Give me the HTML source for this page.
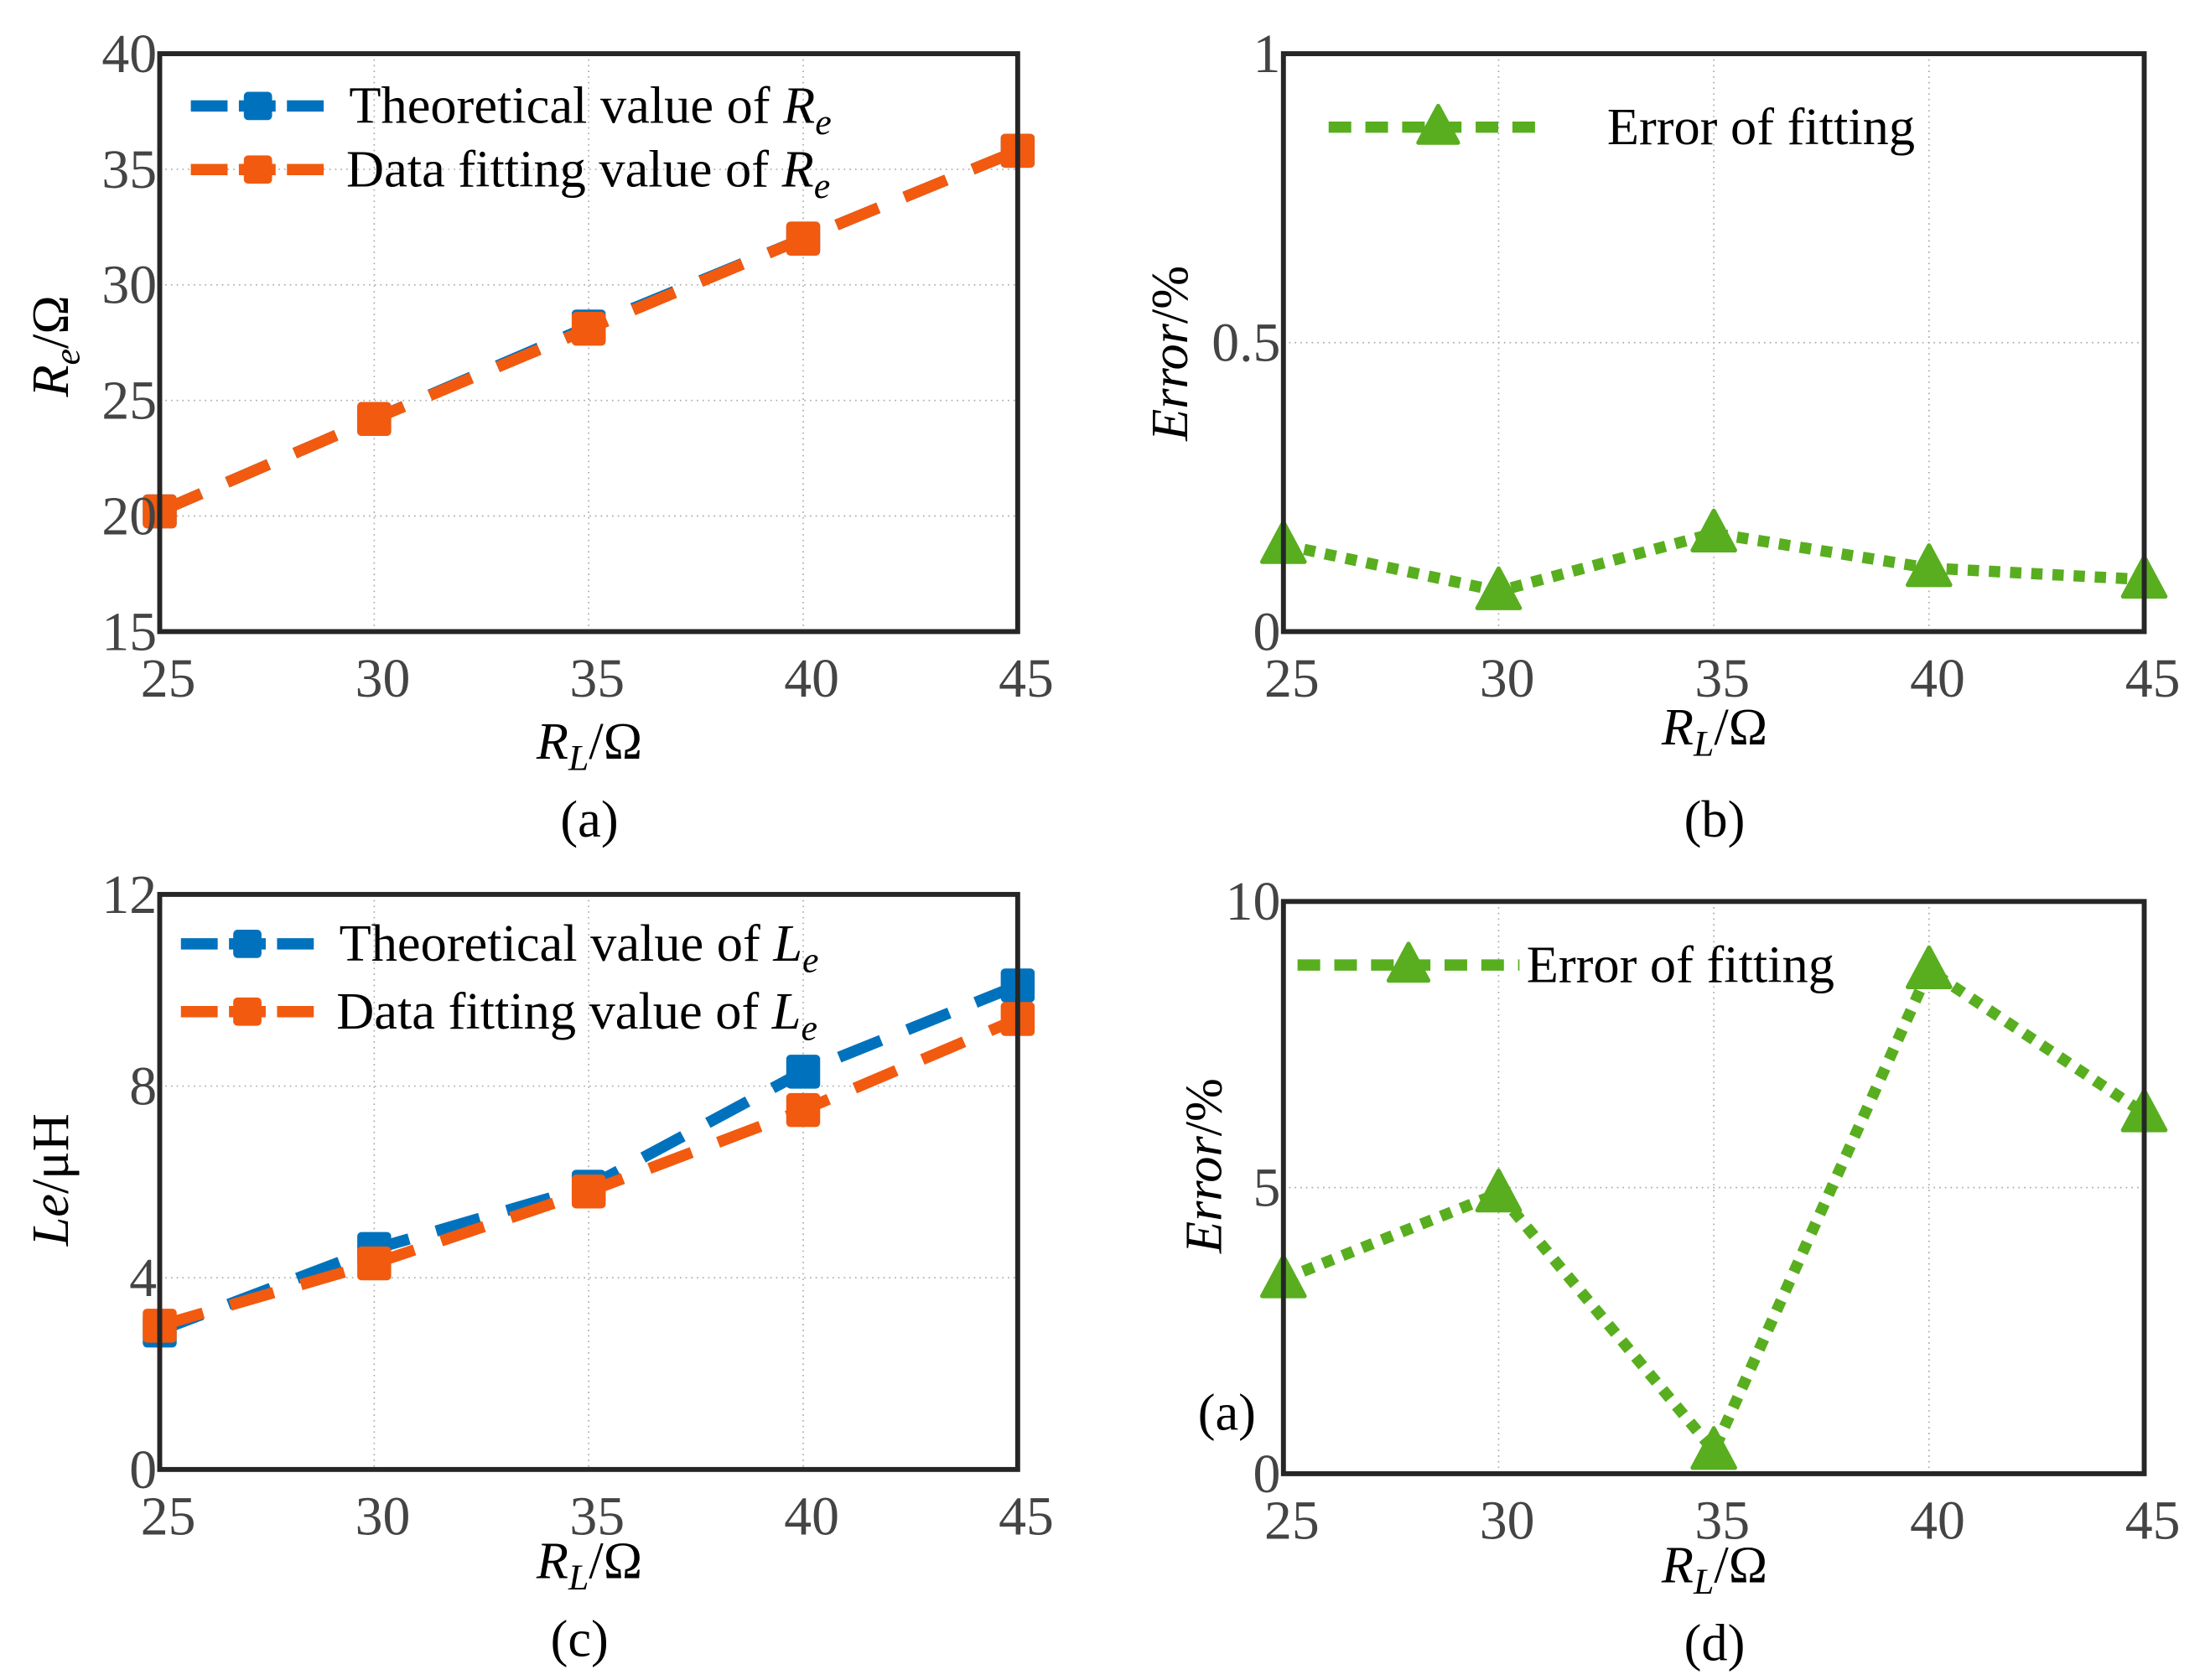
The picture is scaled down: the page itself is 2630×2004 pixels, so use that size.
<!DOCTYPE html>
<html><head><meta charset="utf-8">
<style>
html,body{margin:0;padding:0;background:#fff;}
svg{display:block;font-family:"Liberation Serif","Times New Roman","DejaVu Serif",serif;}
svg text{font-family:"Liberation Serif","Times New Roman","DejaVu Serif",serif;}
.tick{fill:#444;font-size:39px;}
.leg{fill:#000;font-size:37px;}
.lab{fill:#000;font-size:37px;}
</style></head>
<body>
<svg id="fig" width="2630" height="2004" viewBox="0 0 1560 1189" preserveAspectRatio="none" xmlns="http://www.w3.org/2000/svg" font-family="Liberation Serif, serif"></svg>
<script>
const xCats = [25, 30, 35, 40, 45];
const aTheory = [20.2, 24.2, 28.2, 32.0, 35.8];
const aFit = [20.2, 24.2, 28.1, 32.0, 35.8];
const aTicks = [15, 20, 25, 30, 35, 40];
const bError = [0.15, 0.07, 0.17, 0.11, 0.09];
const bTicks = [0, 0.5, 1];
const cTheory = [2.9, 4.6, 5.9, 8.3, 10.1];
const cFit = [3.0, 4.3, 5.8, 7.5, 9.4];
const cTicks = [0, 4, 8, 12];
const dError = [3.4, 4.9, 0.4, 8.8, 6.3];
const dTicks = [0, 5, 10];

const NS = "http://www.w3.org/2000/svg";
const svg = document.getElementById('fig');
function mk(tag, attrs, parent, text){
  const e = document.createElementNS(NS, tag);
  for (const k in attrs) e.setAttribute(k, attrs[k]);
  if (text !== undefined) e.innerHTML = text;
  (parent||svg).appendChild(e);
  return e;
}
const BLUE='#0072BD', ORANGE='#F25A0F', GREEN='#58AE1F';
const FF='Liberation Serif, Times New Roman, DejaVu Serif, serif';

function panel(name, L, R, T, B, ymin, ymax, yticks, ytickLabels, series, legend, ylab, ylabPos, xlabPos, caption){
  const g = mk('g', {'font-family':FF});
  
  
  const sx = v => L + (v - 25) / 20 * (R - L);
  const sy = v => B - (v - ymin) / (ymax - ymin) * (B - T);
  xCats.forEach(v => {
    const gl = mk('line', {x1:sx(v), x2:sx(v), y1:T, y2:B, stroke:'#aaa', 'stroke-width':1, 'stroke-dasharray':'1 3'}, g);
    
    
  });
  yticks.forEach(v => {
    const gl = mk('line', {x1:L, x2:R, y1:sy(v), y2:sy(v), stroke:'#aaa', 'stroke-width':1, 'stroke-dasharray':'1 3'}, g);
    
    
  });
  series.forEach(s => {
    const pts = s.values.map((v,i) => sx(xCats[i]) + ',' + sy(v)).join(' ');
    const pl = mk('polyline', {points:pts, fill:'none', stroke:s.color, 'stroke-width':s.dot?8:8, 'stroke-dasharray':s.dot?'8 7':'32 20'}, g);
    
    
    s.values.forEach((v,i) => {
      const x = sx(xCats[i]), y = sy(v);
      let m;
      if (s.tri) m = mk('polygon', {points:(x)+','+(y-16)+' '+(x-15)+','+(y+12)+' '+(x+15)+','+(y+12), fill:s.color, stroke:s.color, 'stroke-width':3, 'stroke-linejoin':'round'}, g);
      else m = mk('rect', {x:x-12, y:y-12, width:24, height:24, rx:3, fill:s.color}, g);
      
      
    });
  });
  const fr = mk('rect', {x:L, y:T, width:R-L, height:B-T, fill:'none', stroke:'#262626', 'stroke-width':3.5}, g);
  
  
  xCats.forEach(v => {
    const t = mk('text', {x:sx(v)+6, y:B+46, 'text-anchor':'middle', class:'tick', 'font-family':FF}, g, String(v));
    
    
  });
  yticks.forEach((v,i) => {
    const t = mk('text', {x:L-2, y:sy(v)+13, 'text-anchor':'end', class:'tick', 'font-family':FF}, g, ytickLabels[i]);
    
    
  });
  legend.forEach(le => {
    const ll = mk('line', {x1:le.x1, x2:le.x2, y1:le.y, y2:le.y, stroke:le.color, 'stroke-width':8, 'stroke-dasharray':le.dash}, g);
    
    
    const mx = (le.x1 + le.x2) / 2;
    let m;
    if (le.tri) m = mk('polygon', {points:mx+','+(le.y-15)+' '+(mx-14)+','+(le.y+11)+' '+(mx+14)+','+(le.y+11), fill:le.color, stroke:le.color, 'stroke-width':3,'stroke-linejoin':'round'}, g);
    else m = mk('rect', {x:mx-10, y:le.y-10, width:20, height:20, rx:3, fill:le.color}, g);
    
    
    const t = mk('text', {x:le.tx, y:le.y+12, class:'leg', 'font-family':FF}, g, le.text);
    
    
  });
  const yl = mk('text', {x:0, y:0, class:'lab', 'font-family':FF, 'text-anchor':'middle', transform:'translate('+ylabPos[0]+','+ylabPos[1]+') rotate(-90)'}, g, ylab);
  
  
  const xl = mk('text', {x:xlabPos[0], y:xlabPos[1], class:'lab', 'font-family':FF, 'text-anchor':'middle'}, g, '<tspan font-style="italic">R</tspan><tspan font-style="italic" font-size="26" dy="8">L</tspan><tspan dy="-8">/Ω</tspan>');
  
  
  const cp = mk('text', {x:caption[1], y:caption[2], class:'lab', 'font-family':FF, 'text-anchor':'middle'}, g, caption[0]);
  
  
  return g;
}

const eSub = t => '<tspan font-style="italic">'+t[0]+'</tspan><tspan font-style="italic" font-size="26" dy="8">'+t[1]+'</tspan>';

panel('panel-a', 113, 720, 38, 447, 15, 40, aTicks, aTicks.map(String),
  [{name:'theoretical-re', values:aTheory, color:BLUE}, {name:'fitted-re', values:aFit, color:ORANGE}],
  [{x1:135,x2:230,y:75,color:BLUE,dash:'26 8',tx:247,text:'Theoretical value of '+eSub('Re')},
   {x1:135,x2:230,y:120,color:ORANGE,dash:'26 8',tx:245,text:'Data fitting value of '+eSub('Re')}],
  '<tspan font-style="italic">R</tspan><tspan font-style="italic" font-size="26" dy="8">e</tspan><tspan dy="-8">/Ω</tspan>', [48,245], [417,537], ['(a)',417,592]);

panel('panel-b', 908, 1517, 38, 447, 0, 1, bTicks, ['0','0.5','1'],
  [{name:'error-b', values:bError, color:GREEN, dot:true, tri:true}],
  [{x1:940,x2:1095,y:90,color:GREEN,dash:'16 10',tri:true,tx:1137,text:'Error of fitting'}],
  '<tspan font-style="italic">Error</tspan>/%', [840,250], [1213,527], ['(b)',1213,592]);

panel('panel-c', 113, 720, 633, 1040, 0, 12, cTicks, cTicks.map(String),
  [{name:'theoretical-le', values:cTheory, color:BLUE}, {name:'fitted-le', values:cFit, color:ORANGE}],
  [{x1:128,x2:222,y:668,color:BLUE,dash:'26 8',tx:240,text:'Theoretical value of '+eSub('Le')},
   {x1:128,x2:222,y:716,color:ORANGE,dash:'26 8',tx:238,text:'Data fitting value of '+eSub('Le')}],
  '<tspan font-style="italic">Le</tspan>/μH', [48,835], [417,1117], ['(c)',410,1172]);

panel('panel-d', 908, 1517, 638, 1043, 0, 10, dTicks, dTicks.map(String),
  [{name:'error-d', values:dError, color:GREEN, dot:true, tri:true}],
  [{x1:918,x2:1075,y:683,color:GREEN,dash:'16 10',tri:true,tx:1080,text:'Error of fitting'}],
  '<tspan font-style="italic">Error</tspan>/%', [864,825], [1213,1120], ['(d)',1213,1175]);

const extra = mk('text', {x:868, y:1012, class:'lab', 'font-family':FF, 'text-anchor':'middle'}, svg, '(a)');


</script>
</body></html>
